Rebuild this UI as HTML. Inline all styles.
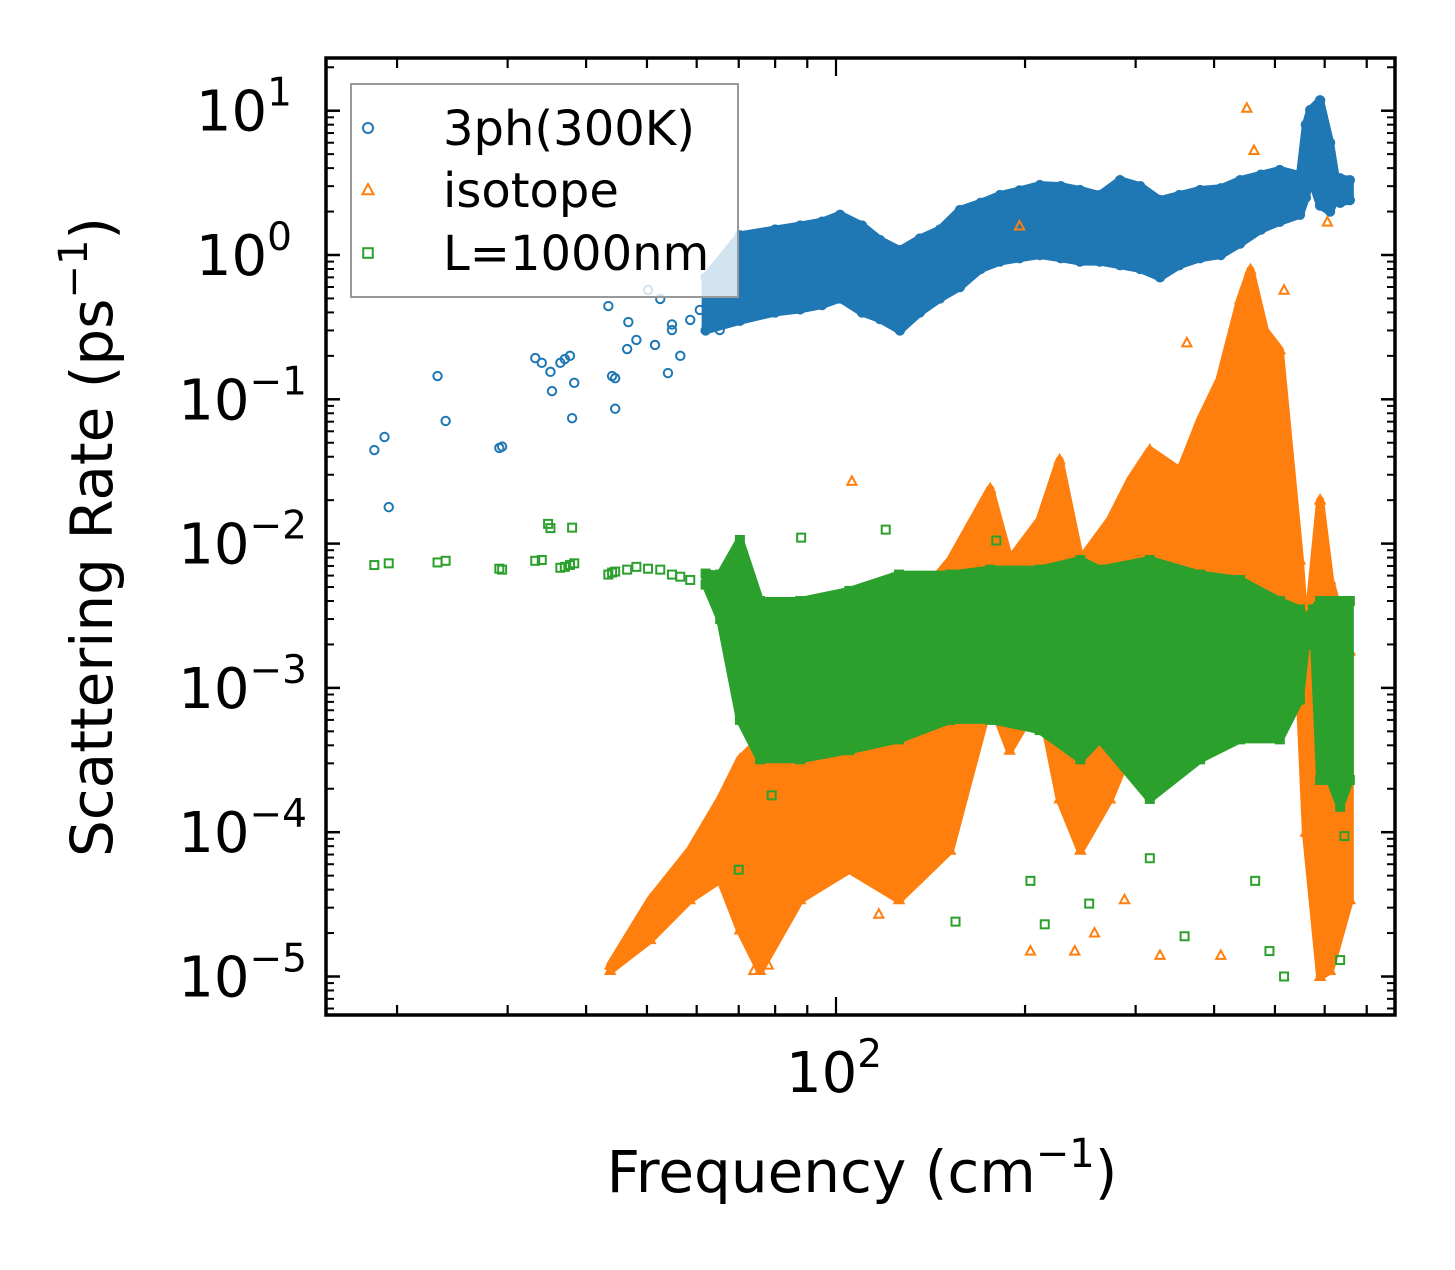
<!DOCTYPE html>
<html><head><meta charset="utf-8"><style>
body{margin:0;background:#fff}
svg text{font-family:"DejaVu Sans","Liberation Sans",sans-serif;fill:#000}
</style></head><body>
<svg id="chart" width="1455" height="1265" xmlns="http://www.w3.org/2000/svg">
<g id="plot"></g>
<g id="axes"></g>
<text x="862" y="1192" text-anchor="middle" font-size="58">Frequency (cm<tspan dy="-25" font-size="40">−1</tspan><tspan dy="25">)</tspan></text>
<text x="0" y="0" text-anchor="middle" font-size="58" transform="translate(112,537) rotate(-90)">Scattering Rate (ps<tspan dy="-25" font-size="40">−1</tspan><tspan dy="25">)</tspan></text>
<g id="legend"></g>
</svg>
<script>
// ---------- data ----------
const blueFreq=[18.4,19.1,19.4,23.2,23.9,29.1,29.4,33.2,34.0,35.1,35.3,36.4,37.0,37.7,38.0,38.3,43.4,44.0,44.5,46.5,46.7,48.1,50.2,51.5,52.5,54.0,54.8,56.5,58.6,60.7,63.0,65.3,67.8,44.5,54.8];
const blueRate=[0.0445,0.0548,0.0179,0.145,0.0708,0.046,0.047,0.193,0.179,0.155,0.114,0.179,0.19,0.2,0.074,0.13,0.443,0.145,0.086,0.223,0.343,0.258,0.572,0.238,0.496,0.152,0.302,0.2,0.355,0.416,0.6,0.302,0.355,0.14,0.33];
const blueBandFreq=[62,70.3,80,87.7,95,101.5,110,117.5,126.4,136,146.4,157.5,170,182.4,196,211.2,228,244.6,263,283.3,305,328,352,380,410,440,475,509,548,560,569,590,612,625,635,658];
const blueBandLo=[0.3,0.35,0.4,0.42,0.45,0.5,0.4,0.36,0.3,0.4,0.5,0.6,0.8,0.9,0.95,1.0,0.95,0.9,0.9,0.85,0.8,0.7,0.85,0.95,1.0,1.2,1.5,1.7,1.9,2.5,3.5,2.2,2.0,2.5,2.3,2.4];
const blueBandHi=[0.7,1.37,1.5,1.6,1.7,1.9,1.6,1.27,1.08,1.3,1.5,2.05,2.3,2.6,2.8,3.05,3.0,2.82,2.6,3.3,3.0,2.4,2.6,2.82,2.9,3.3,3.6,3.88,3.58,8,10.1,11.8,6,3.4,3.4,3.3];
const orangeBandFreq=[43.7,50.6,58.5,65.4,70.3,75.7,87.7,105,126,152,176,189,211,227,245,273,294,316,353,380,408,440,457,482,509,548,560,590,612,658];
const orangeBandLo=[1.1e-5,1.8e-5,3.4e-5,4.7e-5,2.1e-5,1.1e-5,3.4e-5,5.5e-5,3.4e-5,7.5e-5,8.3e-4,3.7e-4,8.3e-4,1.7e-4,7.5e-5,1.7e-4,3.7e-4,8.3e-4,6e-4,3.7e-4,8.3e-4,1.8e-3,4e-3,2.9e-3,1.8e-3,8.3e-4,1e-4,1e-5,1.1e-5,3.4e-5];
const orangeBandHi=[1.2e-5,3.4e-5,7.5e-5,1.7e-4,3.2e-4,4.4e-4,8.3e-4,1.8e-3,2.9e-3,7.7e-3,0.024,7.7e-3,0.0146,0.038,7.7e-3,0.0146,0.0276,0.0445,0.032,0.072,0.137,0.49,0.79,0.30,0.22,7.7e-3,2e-3,0.02,5.6e-3,1.8e-3];
const orangeFreq=[451,463,196,517,606,106,362,204,328,288,117,74,78,240,258,410];
const orangeRate=[10.4,5.3,1.59,0.57,1.69,0.027,0.246,1.5e-5,1.4e-5,3.4e-5,2.7e-5,1.1e-5,1.2e-5,1.5e-5,2e-5,1.4e-5];
const greenFreq=[18.4,19.4,23.2,23.9,29.1,29.4,33.2,34.0,34.8,35.1,38.0,36.4,37.0,37.7,38.3,43.4,44.0,44.5,46.5,48.1,50.2,52.5,54.8,56.5,58.6,517,490,155,359,316,204,215,79,70,635,645,465,253,88,120,180];
const greenRate=[7.1e-3,7.3e-3,7.4e-3,7.6e-3,6.7e-3,6.6e-3,7.6e-3,7.7e-3,0.0137,0.0128,0.0129,6.8e-3,6.9e-3,7.1e-3,7.3e-3,6.1e-3,6.3e-3,6.4e-3,6.6e-3,6.9e-3,6.7e-3,6.6e-3,6.1e-3,5.9e-3,5.6e-3,1.0e-5,1.5e-5,2.4e-5,1.9e-5,6.6e-5,4.6e-5,2.3e-5,1.8e-4,5.5e-5,1.3e-5,9.4e-5,4.6e-5,3.2e-5,0.011,0.0125,0.0105];
const greenBandFreq=[62,65.4,70.3,75.7,87.7,105,126,152,176,211,245,263,316,380,440,509,548,560,575,590,612,635,658];
const greenBandLo=[5.2e-3,3e-3,6e-4,3.2e-4,3.2e-4,3.7e-4,4.4e-4,6e-4,6e-4,5.1e-4,3.2e-4,4.4e-4,1.7e-4,3.2e-4,4.4e-4,4.4e-4,8.3e-4,2e-3,3e-3,2.3e-4,2.3e-4,1.5e-4,2.3e-4];
const greenBandHi=[6.2e-3,6.1e-3,0.0106,4e-3,4e-3,4.7e-3,6.1e-3,6.1e-3,6.6e-3,6.6e-3,7.7e-3,6.6e-3,7.7e-3,6.1e-3,5.6e-3,4e-3,3.5e-3,3e-3,3.5e-3,4e-3,4e-3,4e-3,4e-3];
const yTickExp=[1,0,-1,-2,-3,-4,-5];
const xTickLabels=["10","2"];
// ---------- scales ----------
const X0=326,X1=1395,Y0=58,Y1=1015;
function xs(f){return 836+628*Math.log10(f/100);}
function ys(r){return 255-144.3*Math.log10(r);}
const NS="http://www.w3.org/2000/svg";
function mk(tag,attrs,parent){const e=document.createElementNS(NS,tag);for(const k in attrs)e.setAttribute(k,attrs[k]);parent.appendChild(e);return e;}
const plot=document.getElementById('plot'),axes=document.getElementById('axes');
const cp=mk('clipPath',{id:'clip'},plot);
mk('rect',{x:X0,y:Y0,width:X1-X0,height:Y1-Y0},cp);
const colors={blue:'#1f77b4',orange:'#ff7f0e',green:'#2ca02c'};
function marker(kind,cx,cy,g,s){
  s=s||1;let m;
  if(kind==='blue'){m=mk('circle',{cx:cx,cy:cy,r:4.2*s,fill:'none',stroke:colors.blue,'stroke-width':2},g);}
  else if(kind==='orange'){m=mk('polygon',{points:`${cx},${cy-5*s} ${cx-4.6*s},${cy+3.5*s} ${cx+4.6*s},${cy+3.5*s}`,fill:'none',stroke:colors.orange,'stroke-width':2},g);}
  else {m=mk('rect',{x:cx-4*s,y:cy-4*s,width:8*s,height:8*s,fill:'none',stroke:colors.green,'stroke-width':2},g);}
  return m;
}
function drawSeries(kind,bf,blo,bhi,pf,pr){
  const g=mk('g',{'clip-path':'url(#clip)'},plot);
  
  
  let pts=[];
  for(let i=0;i<bf.length;i++)pts.push(xs(bf[i])+','+ys(bhi[i]));
  for(let i=bf.length-1;i>=0;i--)pts.push(xs(bf[i])+','+ys(blo[i]));
  const band=mk('polygon',{points:pts.join(' '),fill:colors[kind],stroke:colors[kind],'stroke-width':8,'stroke-linejoin':'round'},g);
  
  
  for(let i=0;i<bf.length;i++){
    const a=marker(kind,xs(bf[i]),ys(bhi[i]),g);
    
    
    const b=marker(kind,xs(bf[i]),ys(blo[i]),g);
    
    
  }
  for(let i=0;i<pf.length;i++){
    const p=marker(kind,xs(pf[i]),ys(pr[i]),g);
    
    
  }
}
drawSeries('blue',blueBandFreq,blueBandLo,blueBandHi,blueFreq,blueRate);
drawSeries('orange',orangeBandFreq,orangeBandLo,orangeBandHi,orangeFreq,orangeRate);
drawSeries('green',greenBandFreq,greenBandLo,greenBandHi,greenFreq,greenRate);
// ---------- axes ----------
const frame=mk('rect',{x:X0,y:Y0,width:X1-X0,height:Y1-Y0,fill:'none',stroke:'#000','stroke-width':3.5},axes);


for(const e of yTickExp){
  const y=ys(Math.pow(10,e));
  mk('line',{x1:X0,x2:X0+14,y1:y,y2:y,stroke:'#000','stroke-width':2.5},axes);
  mk('line',{x1:X1,x2:X1-14,y1:y,y2:y,stroke:'#000','stroke-width':2.5},axes);
  const t=mk('text',{x:e<0?307:292,y:y+20,'text-anchor':'end','font-size':56},axes);
  
  
  t.textContent='10';
  const s=mk('tspan',{dy:-25,'font-size':39},t);
  s.textContent=(e<0?'\u2212':'')+Math.abs(e);
}
for(let e=-6;e<=1;e++)for(let k=2;k<=9;k++){
  const y=ys(k*Math.pow(10,e));if(y<Y0||y>Y1)continue;
  mk('line',{x1:X0,x2:X0+8,y1:y,y2:y,stroke:'#000','stroke-width':2},axes);
  mk('line',{x1:X1,x2:X1-8,y1:y,y2:y,stroke:'#000','stroke-width':2},axes);
}
for(let e=1;e<=2;e++)for(let k=1;k<=9;k++){
  const f=k*Math.pow(10,e);const x=xs(f);if(x<X0||x>X1)continue;
  const L=(k===1)?18:10;
  mk('line',{x1:x,x2:x,y1:Y1,y2:Y1-L,stroke:'#000','stroke-width':2.2},axes);
  mk('line',{x1:x,x2:x,y1:Y0,y2:Y0+L,stroke:'#000','stroke-width':2.2},axes);
}
const xt=mk('text',{x:xs(100)-2,y:1092,'text-anchor':'middle','font-size':56},axes);


xt.textContent=xTickLabels[0];
const xs2=mk('tspan',{dy:-25,'font-size':39},xt);xs2.textContent=xTickLabels[1];
// ---------- legend ----------
const lg=document.getElementById('legend');
mk('rect',{x:351,y:84,width:387,height:213,fill:'#fff','fill-opacity':0.8,stroke:'#999','stroke-width':2},lg);
const entries=[['blue','3ph(300K)',128],['orange','isotope',190],['green','L=1000nm',253]];
for(const [k,label,y] of entries){
  const eg=mk('g',{},lg);
  
  
  marker(k,368,y,eg,1.2);
  const t=mk('text',{x:443,y:y+17,'font-size':48},eg);
  t.textContent=label;
}
</script>
</body></html>
